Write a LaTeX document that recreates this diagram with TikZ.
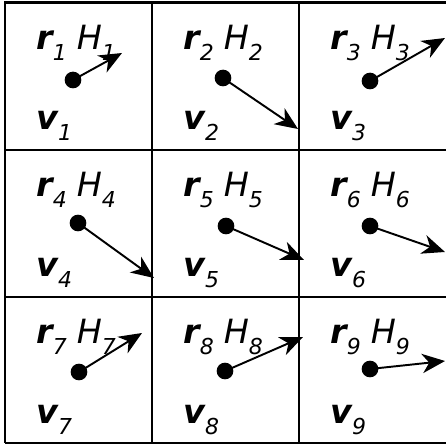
\documentclass[tikz,border=0pt]{standalone}
\usepackage{fontspec}
\setmainfont{DejaVu Sans}
\usetikzlibrary{arrows.meta}
\newcommand{\subidx}[1]{\raisebox{-0.3em}{\fontsize{12.5}{14}\selectfont\itshape #1}}
\newcommand{\bvec}[2]{{\bfseries\itshape #1}\subidx{#2}}
\newcommand{\hsym}[1]{{\itshape H}\subidx{#1}}
\tikzset{
    cell line/.style={line width=1.1pt, black},
    border line/.style={line width=1.7pt, black},
    particle/.style={circle, fill=black, inner sep=0pt, minimum size=9.5pt},
    velocity/.style={
        line width=1.1pt,
        -{Stealth[length=13pt, width=11pt, inset=4pt]}
    },
    cell label/.style={anchor=base west, inner sep=0pt, font=\fontsize{19}{22}\selectfont}
}

\begin{document}
\begin{tikzpicture}[x=0.02cm, y=-0.02cm]
    \useasboundingbox (0,0) rectangle (446,445);
    % grid of cells
    \draw[border line] (5,443) -- (5,3) -- (446,3);
    \draw[border line] (5,443) -- (446,443);
    \draw[cell line] (152,3) -- (152,443) (299,3) -- (299,443);
    \draw[cell line] (5,150) -- (446,150) (5,297) -- (446,297);
    % particles, labels and velocities
    \foreach \i/\xo/\yo/\px/\py/\dx/\dy in {
        1/5/3/73/80/49/-27,
        2/152/3/223/78/75/51,
        3/299/3/370/81/75/-43,
        4/5/150/78/223/76/55,
        5/152/150/226/226/78/34,
        6/299/150/370/226/75/26,
        7/5/297/79/372/63/-39,
        8/152/297/225/371/78/-34,
        9/299/297/370/369/75/-8}
    {
        \node[cell label] (r\i) at (\xo+31,\yo+47) {\bvec{r}{\i}\hspace{0.3em}\hsym{\i}};
        \node[cell label] (v\i) at (\xo+31,\yo+127) {\bvec{v}{\i}};
        \node[particle] (d\i) at (\px,\py) {};
        \path (d\i.center) ++(\dx,\dy) coordinate (t\i);
        \draw[velocity] (d\i.center) -- (t\i);
    }
\end{tikzpicture}
\end{document}
